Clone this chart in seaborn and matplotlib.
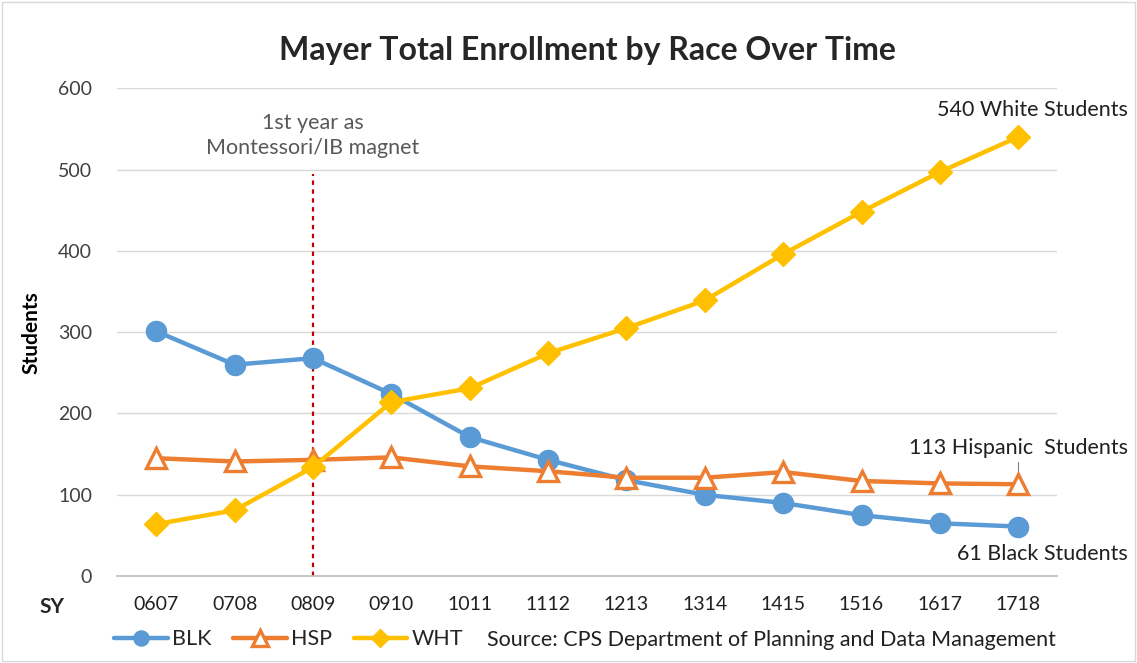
import matplotlib
matplotlib.use("Agg")
import matplotlib.pyplot as plt
import seaborn as sns
import pandas as pd
import numpy as np

years = ["0607", "0708", "0809", "0910", "1011", "1112", "1213", "1314", "1415", "1516", "1617", "1718"]
blk = [301, 260, 268, 224, 171, 143, 118, 100, 90, 75, 65, 61]
hsp = [145, 141, 143, 146, 135, 129, 121, 121, 128, 117, 114, 113]
wht = [64, 81, 134, 214, 231, 274, 305, 339, 396, 448, 497, 540]
series_names = ["BLK", "HSP", "WHT"]

sns.set_theme(style="white")
plt.rcParams['font.family'] = ['Lato', 'DejaVu Sans']

fig = plt.figure(figsize=(11.37, 6.63), dpi=100)
ax = fig.add_axes([0.103, 0.131, 0.827, 0.736])

df = pd.DataFrame({"idx": np.arange(len(years)), "BLK": blk, "HSP": hsp, "WHT": wht})
styles = {
    "BLK": dict(color="#5B9BD5", marker="o", markersize=14.5, mfc="#5B9BD5", mec="#5B9BD5", mew=1),
    "HSP": dict(color="#ED7D31", marker="^", markersize=15, mfc="white", mec="#ED7D31", mew=2.4),
    "WHT": dict(color="#FFC000", marker="D", markersize=12, mfc="#FFC000", mec="#FFC000", mew=1),
}
for name in series_names:
    st = styles[name]
    sns.lineplot(data=df, x="idx", y=name, ax=ax, color=st["color"], lw=3.2,
                 marker=st["marker"], markersize=st["markersize"],
                 markerfacecolor=st["mfc"], markeredgecolor=st["mec"],
                 markeredgewidth=st["mew"], label=name, zorder=3)

ax.set_xlim(-0.5, len(years) - 0.5)
ax.set_ylim(0, 600)
ax.set_yticks(range(0, 601, 100))
ax.tick_params(axis='y', labelsize=14, colors="#404040", length=0, pad=18)
ax.set_xticks(range(len(years)))
ax.set_xticklabels(years, fontsize=14, color="#202020")
ax.tick_params(axis='x', length=0, pad=14)
ax.set_xticks(np.arange(-0.5, len(years), 1.0), minor=True)
ax.tick_params(axis='x', which='minor', length=5, color="#BFBFBF", width=1, direction='out')
ax.grid(axis='y', color="#D9D9D9", lw=1)
ax.set_axisbelow(True)
for s in ["top", "right", "left"]:
    ax.spines[s].set_visible(False)
ax.spines["bottom"].set_color("#BFBFBF")
ax.set_xlabel("")
ax.set_ylabel("Students", fontsize=15, fontweight="bold", labelpad=12, color="black")

# vertical dotted line at 0809
ax.plot([2, 2], [0, 495], color="#C00000", lw=1.6, ls=(0, (2, 2)), zorder=2)
ax.text(2, 542, "1st year as\nMontessori/IB magnet", ha="center", va="center",
        fontsize=15.5, color="#595959", linespacing=1.35)

# annotations
ax.text(12.4, 573, "540 White Students", ha="right", va="center", fontsize=15.5,
        color="#202020", clip_on=False)
ax.text(12.4, 157, "113 Hispanic  Students", ha="right", va="center", fontsize=15.5,
        color="#202020", clip_on=False)
ax.plot([11, 11], [118, 140], color="#808080", lw=0.8)
ax.text(12.4, 27, "61 Black Students", ha="right", va="center", fontsize=15.5,
        color="#202020", clip_on=False)

ax.set_title("Mayer Total Enrollment by Race Over Time", fontsize=23, fontweight="bold", pad=20)

fig.text(0.035, 0.085, "SY", fontsize=15, fontweight="bold", ha="left", va="center")
fig.text(0.428, 0.034, "Source: CPS Department of Planning and Data Management", fontsize=15.5,
         ha="left", va="center", color="#202020")

leg = ax.legend(loc="center left", bbox_to_anchor=(0.1, 0.036), bbox_transform=fig.transFigure,
                ncol=3, frameon=False,
                fontsize=15.5, handlelength=2.5, columnspacing=1.0, handletextpad=0.2,
                borderaxespad=0, borderpad=0, markerscale=0.75)

fig.patches.append(plt.Rectangle((0.002, 0.003), 0.996, 0.994, transform=fig.transFigure,
                                 fill=False, ec="#D9D9D9", lw=1))

fig.savefig("out.png", dpi=100)
